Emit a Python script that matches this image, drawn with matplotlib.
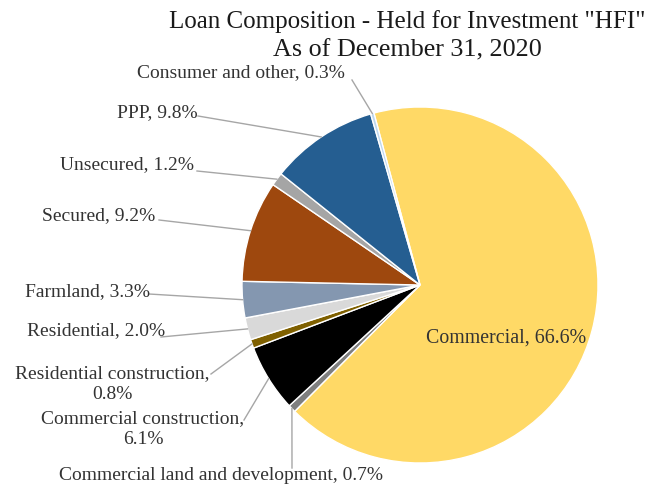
import numpy as np
import matplotlib

matplotlib.use("Agg")
import matplotlib.pyplot as plt

# data, clockwise from the first slice
categories = [
    "Commercial",
    "Commercial land and development",
    "Commercial construction",
    "Residential construction",
    "Residential",
    "Farmland",
    "Secured",
    "Unsecured",
    "PPP",
    "Consumer and other",
]
shares = [66.6, 0.7, 6.1, 0.8, 2.0, 3.3, 9.2, 1.2, 9.8, 0.3]
colors = [
    "#FFD966", "#7F7F7F", "#000000", "#7F6000", "#D9D9D9",
    "#8497B0", "#9E480E", "#A5A5A5", "#255E91", "#BDD7EE",
]

W, H = 654, 488
CENTER = (420, H - 285)
RADIUS = 178

# label layout in pixels from top-left: (text x, text y, ha, anchor x, anchor y)
label_layout = {
    "Consumer and other": (137, 73, "left", 352, 80),
    "PPP": (117, 113, "left", 198, 116),
    "Unsecured": (60, 165, "left", 197, 171),
    "Secured": (42, 216, "left", 159, 220),
    "Farmland": (25, 292, "left", 149, 294),
    "Residential": (27, 331, "left", 161, 337),
    "Residential construction": (112, 384, "center", 211, 374),
    "Commercial construction": (143, 429, "center", 244, 420),
    "Commercial land and development": (221, 476, "center", 292, 468),
}
wrapped = {"Residential construction", "Commercial construction"}

plt.rcParams["font.family"] = ["Liberation Serif", "DejaVu Serif"]

fig = plt.figure(figsize=(W / 100, H / 100), dpi=100)
ax = fig.add_axes([0, 0, 1, 1])

wedges, _ = ax.pie(
    shares,
    colors=colors,
    startangle=105,
    counterclock=False,
    center=CENTER,
    radius=RADIUS,
    wedgeprops=dict(edgecolor="white", linewidth=1.0),
)
ax.set_xlim(0, W)
ax.set_ylim(0, H)
ax.set_aspect("equal")
ax.axis("off")

for name, val, w in zip(categories, shares, wedges):
    mid = np.deg2rad((w.theta1 + w.theta2) / 2)
    ex = CENTER[0] + RADIUS * np.cos(mid)
    ey = CENTER[1] + RADIUS * np.sin(mid)
    if name == "Commercial":
        ax.text(506, H - 338, f"{name}, {val}%", ha="center", va="center",
                fontsize=14.3, color="#333333")
        continue
    tx, ty, ha, axx, ayy = label_layout[name]
    if name in wrapped:
        txt = f"{name},\n{val}%"
    else:
        txt = f"{name}, {val}%"
    ax.text(tx, H - ty, txt, ha=ha, va="center", fontsize=14,
            color="#333333", linespacing=1.25)
    ax.plot([axx, ex], [H - ayy, ey], color="#A6A6A6", linewidth=1.0)

ax.text(407, H - 22, 'Loan Composition - Held for Investment "HFI"',
        ha="center", va="center", fontsize=18, color="#1a1a1a")
ax.text(407, H - 50, "As of December 31, 2020",
        ha="center", va="center", fontsize=18.8, color="#1a1a1a")

fig.savefig("out.png", dpi=100)
